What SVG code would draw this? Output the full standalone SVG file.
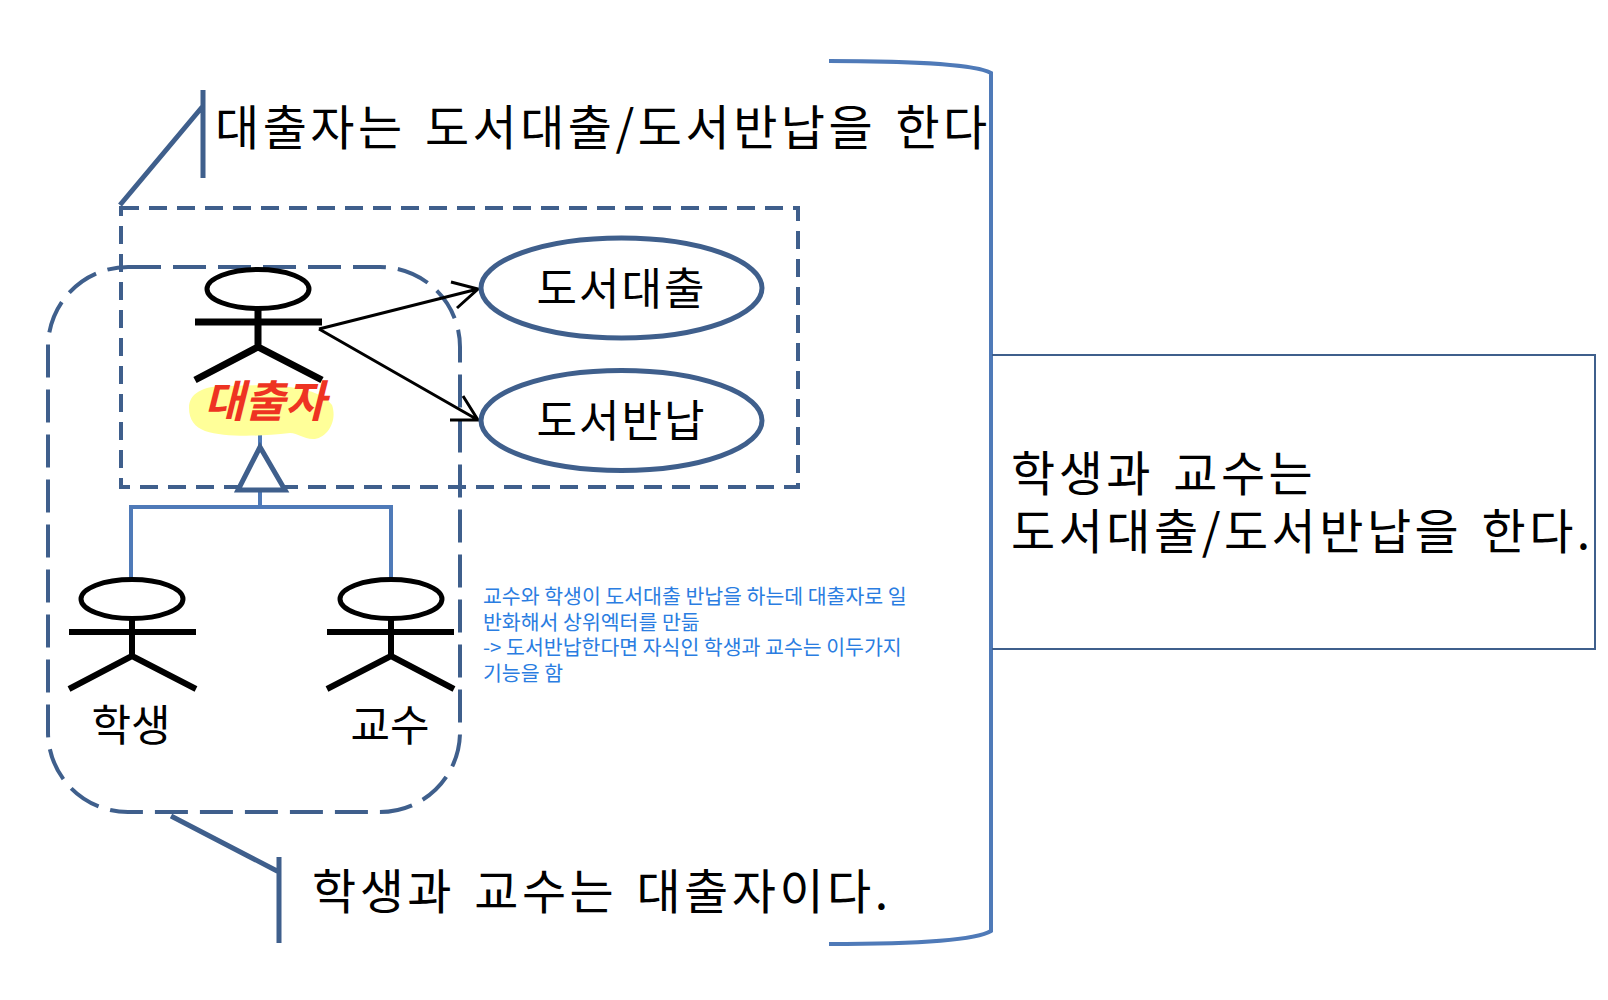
<svg xmlns="http://www.w3.org/2000/svg" width="1608" height="1000" viewBox="0 0 1608 1000">
<style>
text{font-family:"Noto Sans CJK KR","Noto Sans",sans-serif;fill:#000}
.big{font-size:48px;letter-spacing:3.5px;word-spacing:5px}
.mid{font-size:44px;letter-spacing:2px}
.lbl{font-size:43px}
.note{font-size:20.5px;fill:#2a7de1}
.actor{fill:none;stroke:#000}
.dash{fill:none;stroke:#3f5f8c;stroke-width:4;stroke-dasharray:18 10}
.dash2{fill:none;stroke:#3f5f8c;stroke-width:4;stroke-dasharray:33 12}
.oval{fill:#fff;stroke:#3f5f8c;stroke-width:5}
.blue{fill:none;stroke:#4f7ab8;stroke-width:4}
.call{fill:none;stroke:#3f5f8c;stroke-width:5}
.arr{fill:none;stroke:#000;stroke-width:3}
</style>
<rect width="1608" height="1000" fill="#fff"/>
<g id="bubbles">
<rect x="121" y="208" width="677" height="279" class="dash"/>
<rect x="48" y="267" width="412" height="545" rx="80" ry="80" class="dash2"/>
</g>
<g id="connectors">
<path class="blue" d="M131 578V507H391V578M260 507V490"/>
<path class="blue" d="M260 435V448"/>
<path d="M260 447L238 490H285Z" fill="#fff" stroke="#3f5f8c" stroke-width="5"/>
<path class="arr" d="M319 329L478 289M451 282L478 289L457 308"/>
<path class="arr" d="M319 329L478 420M463 396L478 420H450"/>
<path class="call" d="M120 205L203 106M203 90V178"/>
<path class="call" d="M171 816L279 872M279 857V943"/>
<path class="blue" d="M829 61C900 61 975 64 991 73V931C975 941 900 944 829 944"/>
<path d="M992 355H1595V649H992" fill="none" stroke="#3f5f8c" stroke-width="2"/>
</g>
<g id="actor-borrower">
<ellipse cx="258" cy="289" rx="51" ry="19.5" class="actor" stroke-width="5"/>
<path class="actor" stroke-width="7" d="M195 322H322M258 310V347M195 380L258 347L322 380"/>
<path d="M189 408C189 392 205 385 230 386C270 384 318 385 332 405C338 422 326 439 313 439C303 439 298 433 290 433C255 437 225 437 205 431C195 427 189 420 189 408Z" fill="#ffff99"/>
<text x="265" y="417" text-anchor="middle" font-size="44" font-weight="700" font-style="italic" style="fill:#ee3322">대출자</text>
</g>
<g id="actor-student">
<ellipse cx="132" cy="599" rx="51" ry="19.5" class="actor" stroke-width="5"/>
<path class="actor" stroke-width="6" d="M69 632H196M132 618V656M69 689L132 656L196 689"/>
<text x="131" y="741" text-anchor="middle" class="lbl">학생</text>
</g>
<g id="actor-professor">
<ellipse cx="391" cy="599" rx="51" ry="19.5" class="actor" stroke-width="5"/>
<path class="actor" stroke-width="6" d="M327 632H454M391 618V656M327 689L391 656L454 689"/>
<text x="390" y="741" text-anchor="middle" class="lbl">교수</text>
</g>
<g id="usecase-borrow">
<ellipse cx="621.5" cy="288" rx="140.5" ry="50" class="oval"/>
<text x="621.5" y="305" text-anchor="middle" class="mid">도서대출</text>
</g>
<g id="usecase-return">
<ellipse cx="621.5" cy="420.5" rx="140.5" ry="50" class="oval"/>
<text x="621.5" y="437" text-anchor="middle" class="mid">도서반납</text>
</g>
<g id="labels">
<text x="215" y="145" class="big">대출자는 도서대출/도서반납을 한다</text>
<text x="312" y="909" class="big">학생과 교수는 대출자이다.</text>
<text x="1011" y="491" class="big">학생과 교수는</text>
<text x="1011" y="549" class="big">도서대출/도서반납을 한다.</text>
<text x="483" y="604" class="note">교수와 학생이 도서대출 반납을 하는데 대출자로 일</text>
<text x="483" y="629.5" class="note">반화해서 상위엑터를 만듦</text>
<text x="483" y="655" class="note">-&gt; 도서반납한다면 자식인 학생과 교수는 이두가지</text>
<text x="483" y="680.5" class="note">기능을 함</text>
</g>
</svg>
